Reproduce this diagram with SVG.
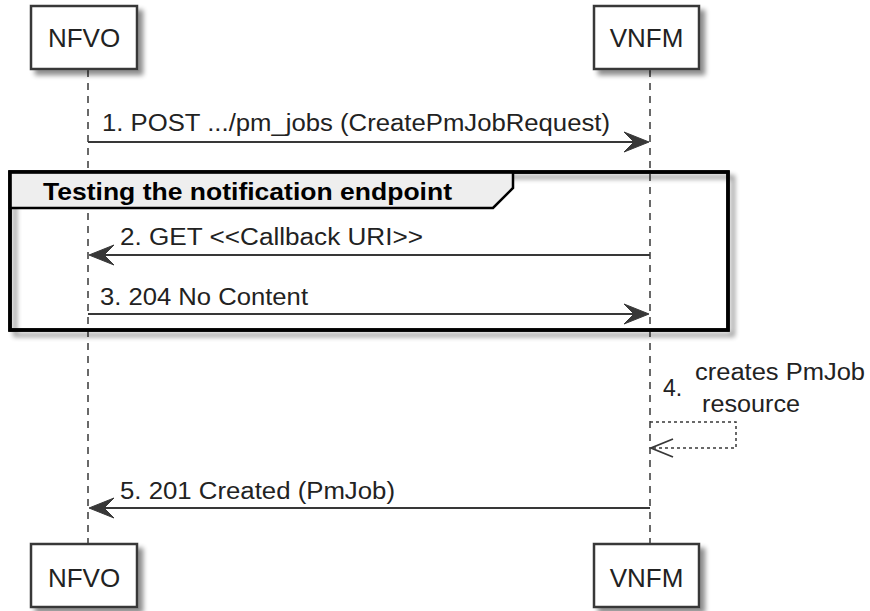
<svg xmlns="http://www.w3.org/2000/svg" width="870" height="611" viewBox="0 0 870 611">
<defs>
<filter id="sh" x="-20%" y="-20%" width="150%" height="150%">
<feGaussianBlur in="SourceAlpha" stdDeviation="2.5"/>
<feOffset dx="5" dy="5" result="b"/>
<feComponentTransfer><feFuncA type="linear" slope="0.45"/></feComponentTransfer>
<feMerge><feMergeNode/><feMergeNode in="SourceGraphic"/></feMerge>
</filter>
</defs>
<style>
.box{fill:#fff;stroke:#383838;stroke-width:2.5}
.pt{font-family:"Liberation Sans",Arial,sans-serif;font-size:26px;fill:#222;text-anchor:middle}
.msg{font-family:"Liberation Sans",Arial,sans-serif;font-size:23px;fill:#222}
.life{stroke:#383838;stroke-width:1.5;stroke-dasharray:7,6;fill:none}
.ln{stroke:#383838;stroke-width:1.8;fill:none}
.dot{stroke:#383838;stroke-width:1.5;stroke-dasharray:3,3;fill:none}
.ah{fill:#383838;stroke:#383838;stroke-width:1}
.frame{fill:none;stroke:#000;stroke-width:3.5}
</style>
<g id="lifelines">
<line class="life" x1="88" y1="70" x2="88" y2="544"/>
<line class="life" x1="650" y1="70" x2="650" y2="544"/>
</g>
<g id="fragment">
<rect x="10" y="172" width="718" height="158" fill="none" stroke="#000" stroke-width="3.5" filter="url(#sh)"/>
<path d="M10,172 L513,172 L513,188 L493,208 L10,208 Z" fill="#eeeeee" stroke="#000" stroke-width="2.5"/>
<rect class="frame" x="10" y="172" width="718" height="158"/>
<text x="43" y="200" font-family="'Liberation Sans',Arial,sans-serif" font-size="24" font-weight="bold" fill="#000" textLength="409" lengthAdjust="spacingAndGlyphs">Testing the notification endpoint</text>
</g>
<g id="NFVO-top"><rect class="box" x="31" y="6" width="106" height="63" filter="url(#sh)"/><text class="pt" x="84" y="47">NFVO</text></g>
<g id="VNFM-top"><rect class="box" x="594" y="6" width="105" height="63" filter="url(#sh)"/><text class="pt" x="646.5" y="47">VNFM</text></g>
<g id="NFVO-bottom"><rect class="box" x="31" y="544" width="106" height="63" filter="url(#sh)"/><text class="pt" x="84" y="587">NFVO</text></g>
<g id="VNFM-bottom"><rect class="box" x="594" y="544" width="105" height="63" filter="url(#sh)"/><text class="pt" x="646.5" y="587">VNFM</text></g>
<g id="connectors">
<line class="ln" x1="88" y1="142" x2="646" y2="142"/>
<polygon class="ah" points="649,142 624,132 634,142 624,152"/>
<text class="msg" x="102" y="131" textLength="508" lengthAdjust="spacingAndGlyphs">1. POST .../pm_jobs (CreatePmJobRequest)</text>

<line class="ln" x1="650" y1="255" x2="92" y2="255"/>
<polygon class="ah" points="89,255 114,245 104,255 114,265"/>
<text class="msg" x="120" y="245" textLength="303" lengthAdjust="spacingAndGlyphs">2. GET &lt;&lt;Callback URI&gt;&gt;</text>

<line class="ln" x1="88" y1="314" x2="646" y2="314"/>
<polygon class="ah" points="649,314 624,304 634,314 624,324"/>
<text class="msg" x="100" y="305" textLength="208" lengthAdjust="spacingAndGlyphs">3. 204 No Content</text>

<polyline class="dot" points="650,422 736,422 736,448 652,448"/>
<polyline class="ln" points="673,439 651,448 673,457" stroke-width="1.5"/>
<text class="msg" x="663" y="396">4.</text>
<text class="msg" x="695" y="380" textLength="170" lengthAdjust="spacingAndGlyphs">creates PmJob</text>
<text class="msg" x="702" y="412" textLength="98" lengthAdjust="spacingAndGlyphs">resource</text>

<line class="ln" x1="650" y1="508" x2="92" y2="508"/>
<polygon class="ah" points="89,508 114,498 104,508 114,518"/>
<text class="msg" x="120" y="499" textLength="275" lengthAdjust="spacingAndGlyphs">5. 201 Created (PmJob)</text>
</g>
</svg>
